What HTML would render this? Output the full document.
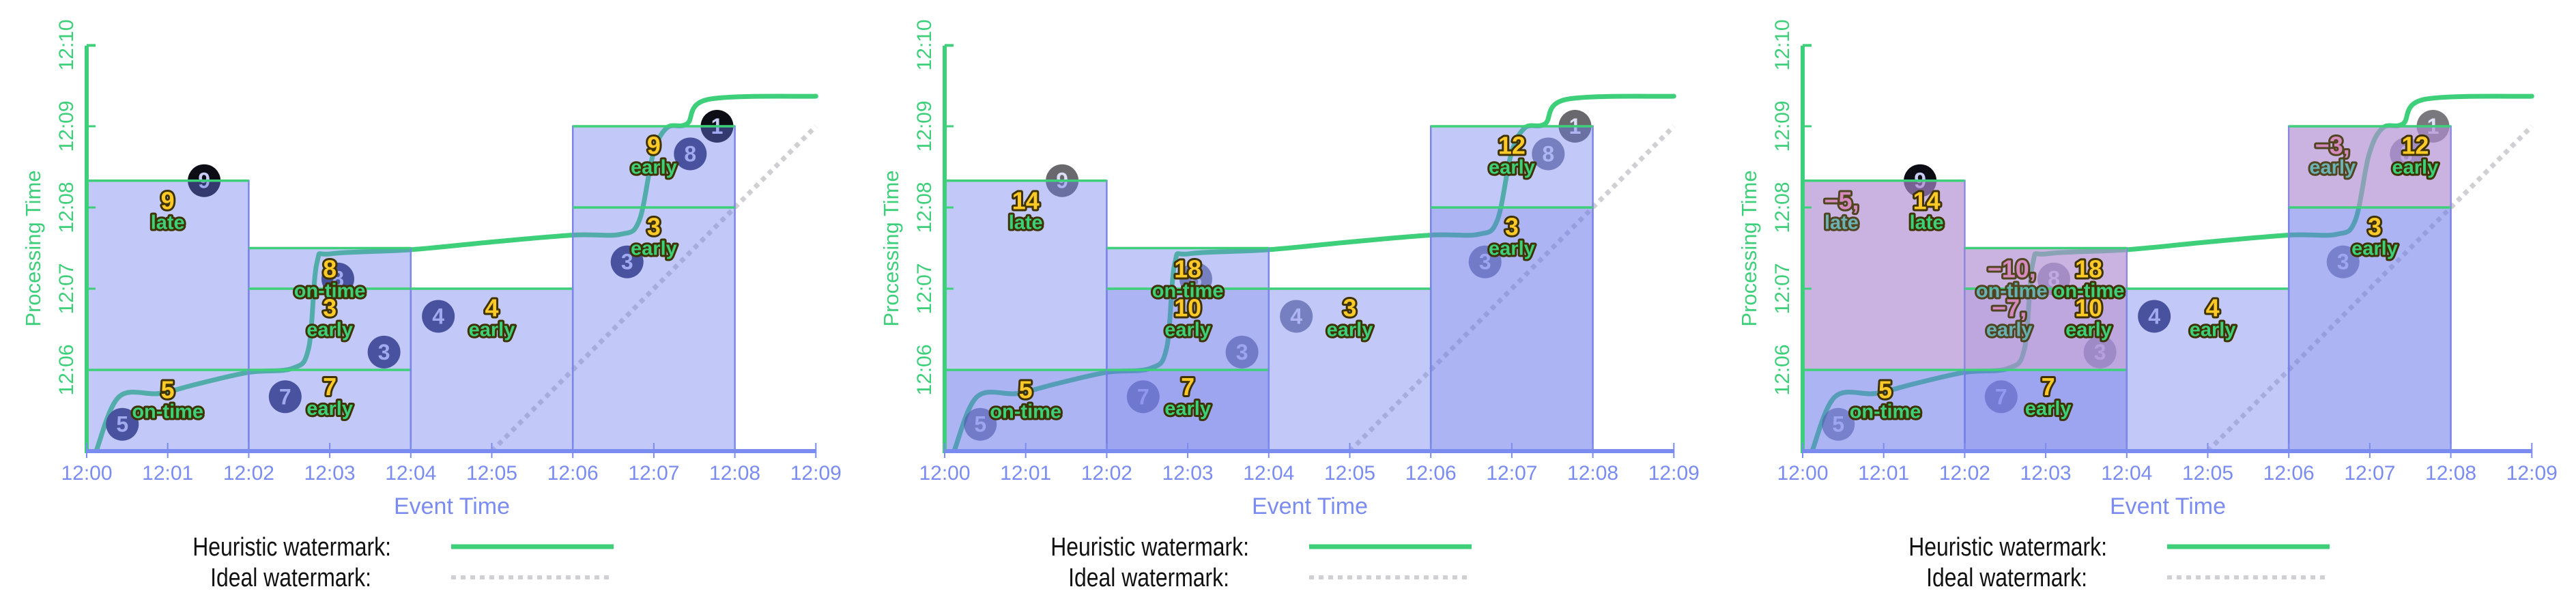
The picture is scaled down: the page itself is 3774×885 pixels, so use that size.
<!DOCTYPE html>
<html><head><meta charset="utf-8"><style>
html,body{margin:0;padding:0;background:#fff;width:3774px;height:885px;overflow:hidden}
svg{display:block}
text{font-family:"Liberation Sans Narrow","Liberation Sans",sans-serif}
</style></head><body>
<svg id="chart" width="3774" height="885" viewBox="0 0 3774 885" xmlns="http://www.w3.org/2000/svg"></svg>
<script>
const xTicks = ["12:00","12:01","12:02","12:03","12:04","12:05","12:06","12:07","12:08","12:09"];
const yTicks = ["12:06","12:07","12:08","12:09","12:10"];
const yTickVals = [6,7,8,9,10];
const winStart = [0,2,4,6];
const winEnd = [2,4,6,8];
const winPanes = [[6,8.33],[6,7,7.5],[7],[8,9]];
const ptX = [0.44,1.45,2.45,3.1,3.67,4.34,6.67,7.45,7.78];
const ptY = [5.33,8.33,5.67,7.12,6.22,6.66,7.33,8.66,9.0];
const ptVal = ["5","9","7","8","3","4","3","8","1"];
const ptLate = [0,1,0,0,0,0,0,0,1];
const wmX = [0.12,0.40,0.90,1.38,2.0,2.54,2.74,2.84,3.02,4.0,5.05,6.0,6.59,6.82,6.99,7.16,7.41,7.67,9.0];
const wmY = [5.01,5.67,5.71,5.83,5.97,6.02,6.27,7.31,7.43,7.48,7.58,7.66,7.67,7.84,8.65,8.98,9.03,9.33,9.37];
const idealX = [5,9];
const idealY = [5,9];
const lab1X=[1,1,3,3,3,5,7,7], lab1Y=[7.82,5.49,6.98,6.5,5.53,6.5,7.5,8.5];
const lab1N=["9","5","8","3","7","4","3","9"], lab1W=["late","on-time","on-time","early","early","early","early","early"];
const lab2N=["14","5","18","10","7","3","3","12"];
const lab3X=[0.48,1.53,1.02,2.58,3.53,2.55,3.53,3.03,5.06,6.54,7.56,7.06];
const lab3Y=[7.82,7.82,5.49,6.98,6.98,6.5,6.5,5.53,6.5,8.5,8.5,7.5];
const lab3N=["−5,","14","5","−10,","18","−7,","10","7","4","−3,","12","3"];
const lab3W=["late","late","on-time","on-time","on-time","early","early","early","early","early","early","early"];
const lab3R=[1,0,0,1,0,1,0,0,0,1,0,0];

const NS="http://www.w3.org/2000/svg";
const svg=document.getElementById('chart');
function mk(tag,attrs,parent){const e=document.createElementNS(NS,tag);for(const k in attrs)e.setAttribute(k,attrs[k]);(parent||svg).appendChild(e);return e;}
const SX=118.7, SY=119, BASEY=661;
function smooth(pts){let d="M"+pts[0][0]+","+pts[0][1];for(let i=0;i<pts.length-1;i++){const p0=pts[Math.max(0,i-1)],p1=pts[i],p2=pts[i+1],p3=pts[Math.min(pts.length-1,i+2)];const c1=[p1[0]+(p2[0]-p0[0])/6,p1[1]+(p2[1]-p0[1])/6],c2=[p2[0]-(p3[0]-p1[0])/6,p2[1]-(p3[1]-p1[1])/6];d+=" C"+c1[0]+","+c1[1]+" "+c2[0]+","+c2[1]+" "+p2[0]+","+p2[1];}return d;}

function panel(i){
  const ox=127+1257*i;
  const X=v=>ox+v*SX, Y=v=>BASEY-(v-5)*SY;
  const g=mk('g',{});
  
  
  const il=mk('line',{x1:X(idealX[0]),y1:Y(idealY[0]),x2:X(idealX[1]),y2:Y(idealY[1]),stroke:'#cfcfd4','stroke-width':7,'stroke-dasharray':'7 7'},g);
  
  
  const pts=wmX.map((x,k)=>[X(x),Y(wmY[k])]);
  const hw=mk('path',{d:smooth(pts),fill:'none',stroke:'#3ecf7a','stroke-width':7,'stroke-linecap':'round'},g);
  
  
  for(let k=0;k<ptX.length;k++){
    let op=1;
    if(i===1) op=0.62;
    if(i===2) op=(ptLate[k]||ptVal[k]==="4")?(ptVal[k]==="1"?0.55:1):0.55;
    const cg=mk('g',{opacity:op},g);
    
    
    mk('circle',{cx:X(ptX[k]),cy:Y(ptY[k]),r:24,fill:ptLate[k]?'#0c0c14':'#2e3566'},cg);
    const t=mk('text',{x:X(ptX[k]),y:Y(ptY[k])+11,'text-anchor':'middle','font-size':32,'font-weight':'bold',fill:'#c8ccf2'},cg);
    t.textContent=ptVal[k];
  }
  for(let w=0;w<winStart.length;w++){
    const panes=winPanes[w], top=panes[panes.length-1];
    const r=mk('rect',{x:X(winStart[w]),y:Y(top),width:(winEnd[w]-winStart[w])*SX,height:(top-5)*SY,fill:'rgb(110,125,235)','fill-opacity':0.42,stroke:'#7b86e6','stroke-width':2.5},g);
    
    
    if(i>=1){
      for(let p=0;p<panes.length-1;p++){
        const o=mk('rect',{x:X(winStart[w]),y:Y(panes[p]),width:(winEnd[w]-winStart[w])*SX,height:(panes[p]-5)*SY,fill:'rgb(100,110,230)','fill-opacity':0.22},g);
        
        
      }
    }
    if(i===2 && panes.length>1){
      const o=mk('rect',{x:X(winStart[w]),y:Y(top),width:(winEnd[w]-winStart[w])*SX,height:(top-panes[0])*SY,fill:'rgb(215,150,195)','fill-opacity':0.42},g);
      
      
    }
    for(let p=0;p<panes.length;p++){
      const l=mk('line',{x1:X(winStart[w]),x2:X(winEnd[w]),y1:Y(panes[p]),y2:Y(panes[p]),stroke:'#3ecf7a','stroke-width':3.5},g);
      
      
    }
  }
  const ya=mk('line',{x1:X(0),x2:X(0),y1:67,y2:BASEY+3,stroke:'#3ecf7a','stroke-width':6},g);
  
  
  mk('line',{x1:X(0),x2:X(0)+13,y1:67,y2:67,stroke:'#3ecf7a','stroke-width':3},g);
  for(let k=0;k<yTicks.length;k++){
    mk('line',{x1:X(0),x2:X(0)+13,y1:Y(yTickVals[k]),y2:Y(yTickVals[k]),stroke:'#3ecf7a','stroke-width':3},g);
    const t=mk('text',{x:0,y:0,transform:'translate('+(X(0)-20)+','+Y(yTickVals[k])+') rotate(-90)','text-anchor':'middle','font-size':30,fill:'#3ecf7a'},g);
    
    
    t.textContent=yTicks[k];
  }
  const yt=mk('text',{x:0,y:0,transform:'translate('+(X(0)-68)+',364) rotate(-90)','text-anchor':'middle','font-size':31,fill:'#3ecf7a'},g);
  
  
  yt.textContent='Processing Time';
  const xa=mk('line',{x1:X(0),x2:X(9),y1:BASEY,y2:BASEY,stroke:'#7b8cf0','stroke-width':6},g);
  
  
  for(let k=0;k<xTicks.length;k++){
    mk('line',{x1:X(k),x2:X(k),y1:BASEY-12,y2:BASEY+10,stroke:'#7b8cf0','stroke-width':2},g);
    const t=mk('text',{x:X(k),y:703,'text-anchor':'middle','font-size':30,fill:'#7b8cf0'},g);
    
    
    t.textContent=xTicks[k];
  }
  const xt=mk('text',{x:X(0)+535,y:753,'text-anchor':'middle','font-size':34,fill:'#7b8cf0'},g);
  
  
  xt.textContent='Event Time';
  let LX,LY,LN,LW,LR;
  if(i===0){LX=lab1X;LY=lab1Y;LN=lab1N;LW=lab1W;LR=lab1X.map(()=>0);}
  else if(i===1){LX=lab1X;LY=lab1Y;LN=lab2N;LW=lab1W;LR=lab1X.map(()=>0);}
  else {LX=lab3X;LY=lab3Y;LN=lab3N;LW=lab3W;LR=lab3R;}
  for(let k=0;k<LX.length;k++){
    const lg=mk('g',{opacity:LR[k]?0.85:1},g);
    
    
    const n=mk('text',{x:X(LX[k]),y:Y(LY[k])-19,'text-anchor':'middle','font-size':36,'font-weight':'bold',fill:LR[k]?'#d985b8':'#ffc928',stroke:'#3d3200','stroke-width':6,'stroke-linejoin':'round','paint-order':'stroke'},lg);
    n.textContent=LN[k];
    const wt=mk('text',{x:X(LX[k]),y:Y(LY[k])+10,'text-anchor':'middle','font-size':29,'font-weight':'bold',fill:LR[k]?'#5db3ad':'#3ecf7a',stroke:'#3d3200','stroke-width':6,'stroke-linejoin':'round','paint-order':'stroke'},lg);
    wt.textContent=LW[k];
  }
  const lx1=ox+446, lx2=ox+417;
  const l1=mk('text',{x:lx1,y:814,'text-anchor':'end','font-size':38,fill:'#111',transform:'translate('+lx1+',0) scale(0.84,1) translate('+(-lx1)+',0)'},g);
  
  
  l1.textContent='Heuristic watermark:';
  const l2=mk('text',{x:lx2,y:859,'text-anchor':'end','font-size':38,fill:'#111',transform:'translate('+lx2+',0) scale(0.84,1) translate('+(-lx2)+',0)'},g);
  
  
  l2.textContent='Ideal watermark:';
  const s1=mk('line',{x1:ox+534,x2:ox+772,y1:801,y2:801,stroke:'#3ecf7a','stroke-width':7},g);
  
  
  const s2=mk('line',{x1:ox+534,x2:ox+772,y1:846,y2:846,stroke:'#cfcfd4','stroke-width':6,'stroke-dasharray':'7 7'},g);
  
  
}
for(let i=0;i<3;i++) panel(i);
</script>
</body></html>
